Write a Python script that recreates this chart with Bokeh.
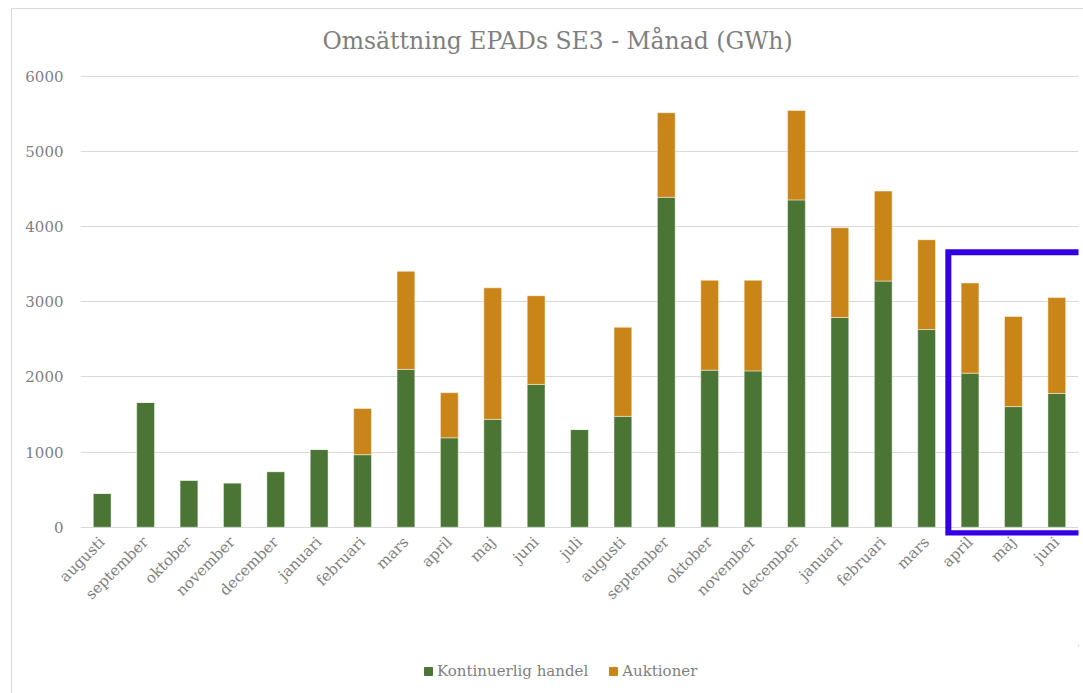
from bokeh.plotting import figure
from bokeh.layouts import column
from bokeh.models import (ColumnDataSource, Range1d, FixedTicker, Legend, LegendItem, Title)
from bokeh.embed import file_html
from bokeh.resources import INLINE

months = ["augusti", "september", "oktober", "november", "december", "januari",
          "februari", "mars", "april", "maj", "juni", "juli", "augusti", "september",
          "oktober", "november", "december", "januari", "februari", "mars",
          "april", "maj", "juni"]
kontinuerlig = [450, 1660, 625, 590, 740, 1035, 965, 2100, 1190, 1435, 1900, 1300,
                1475, 4390, 2090, 2080, 4355, 2790, 3275, 2630, 2050, 1605, 1780]
auktioner = [0, 0, 0, 0, 0, 0, 615, 1305, 600, 1750, 1180, 0,
             1185, 1125, 1195, 1205, 1190, 1195, 1197, 1195, 1200, 1200, 1275]
y_ticks = [0, 1000, 2000, 3000, 4000, 5000, 6000]
series_names = ["Kontinuerlig handel", "Auktioner"]

# highlight (last three months)
highlight_first = 20
highlight_top = 3658
highlight_bottom = -80

FONT = "DejaVu Serif"
GRAY = "#7f7f7f"
GREEN = "#4a7534"
ORANGE = "#ca8518"
BORDER = "#d9d9d9"

src = ColumnDataSource(dict(x=list(range(len(months))), k=kontinuerlig, a=auktioner))

p = figure(width=1083, height=645, output_backend="svg", toolbar_location=None,
           x_range=Range1d(-0.5, len(months) - 0.5), y_range=Range1d(-110, 6050),
           min_border_left=80, min_border_right=5, min_border_top=72, min_border_bottom=110)
p.outline_line_color = None
p.border_fill_color = None
p.background_fill_color = None

rs = p.vbar_stack(["k", "a"], x="x", width=0.41, source=src, color=[GREEN, ORANGE],
                  line_color="white", line_alpha=0.45, line_width=1)

p.title = Title(text="Omsättning EPADs SE3 - Månad (GWh)", align="left",
                text_font=FONT, text_font_size="23.5px", text_font_style="normal",
                text_color=GRAY, offset=242, standoff=35)

# axes
p.yaxis.ticker = FixedTicker(ticks=y_ticks)
p.yaxis.axis_line_color = None
p.yaxis.major_tick_line_color = None
p.yaxis.minor_tick_line_color = None
p.yaxis.major_tick_out = 0
p.yaxis.major_label_standoff = 17
p.yaxis.major_label_text_font = FONT
p.yaxis.major_label_text_font_size = "15px"
p.yaxis.major_label_text_color = GRAY

p.xaxis.ticker = FixedTicker(ticks=list(range(len(months))))
p.xaxis.major_label_overrides = {i: m for i, m in enumerate(months)}
p.xaxis.major_label_orientation = 0.785398
p.xaxis.axis_line_color = None
p.xaxis.major_tick_line_color = None
p.xaxis.minor_tick_line_color = None
p.xaxis.major_tick_out = 0
p.xaxis.major_label_standoff = 4
p.xaxis.major_label_text_font = FONT
p.xaxis.major_label_text_font_size = "15px"
p.xaxis.major_label_text_color = GRAY

p.xgrid.visible = False
p.ygrid.grid_line_color = BORDER
p.ygrid.grid_line_width = 1

# highlight box (clipped by the frame on the right, like the reference)
p.quad(left=[highlight_first - 0.5], right=[len(months) + 1.5],
       bottom=[highlight_bottom], top=[highlight_top],
       fill_color=None, line_color="#3300e6", line_width=6, line_join="miter")

# legend strip below the chart
p2 = figure(width=1083, height=48, output_backend="svg", toolbar_location=None,
            x_range=Range1d(0, 1), y_range=Range1d(0, 1),
            x_axis_type=None, y_axis_type=None,
            min_border_left=0, min_border_right=0, min_border_top=0, min_border_bottom=0)
p2.outline_line_color = None
p2.border_fill_color = None
p2.background_fill_color = None
p2.grid.visible = False
# swatch-only renderers (point lies outside the visible range)
d1 = p2.vbar(x=[5], top=[5], bottom=[4], width=0.1, color=GREEN)
d2 = p2.vbar(x=[5], top=[5], bottom=[4], width=0.1, color=ORANGE)

legend = Legend(items=[LegendItem(label=series_names[0], renderers=[d1]),
                       LegendItem(label=series_names[1], renderers=[d2])],
                orientation="horizontal", location=(343, 13),
                glyph_width=10, glyph_height=10, label_height=16, label_standoff=4,
                spacing=20, padding=0, margin=0,
                label_text_font=FONT, label_text_font_size="15px",
                label_text_color=GRAY, border_line_color=None,
                background_fill_alpha=0)
p2.add_layout(legend)

layout = column(p, p2, spacing=0, styles={
    "background-color": "white",
    "background-image": f"linear-gradient({BORDER},{BORDER}), linear-gradient({BORDER},{BORDER})",
    "background-size": "1px 100%, 100% 1px",
    "background-position": "11px 8px, 11px 8px",
    "background-repeat": "no-repeat",
})

open("out.html", "w").write(file_html(layout, INLINE))
